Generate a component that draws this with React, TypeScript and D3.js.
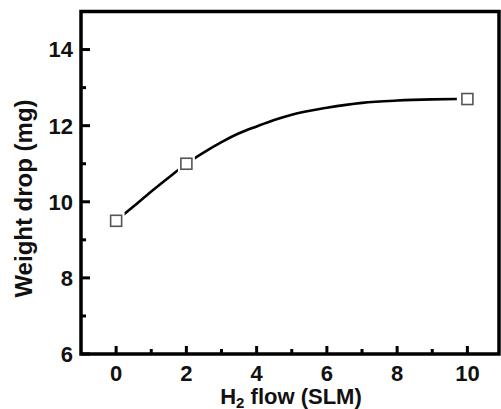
import React from "react";
import * as d3 from "d3";

const flowPoints = [0, 2, 10];
const weightPoints = [9.5, 11.0, 12.7];

const curveX = [0, 0.5, 1, 1.5, 2, 2.5, 3, 3.5, 4, 4.5, 5, 6, 7, 8, 9, 9.7];
const curveY = [9.5, 9.88, 10.27, 10.64, 11.0, 11.3, 11.57, 11.8, 11.98, 12.15, 12.29, 12.47, 12.6, 12.66, 12.69, 12.7];

const xMajor = [0, 2, 4, 6, 8, 10];
const xMinor = [1, 3, 5, 7, 9];
const yMajor = [6, 8, 10, 12, 14];
const yMinor = [7, 9, 11, 13];

const W = 501;
const H = 409;
const left = 81;
const right = 499;
const top = 11.5;
const bottom = 354;

export default function App() {
  const x = d3.scaleLinear().domain([-1, 10.9]).range([left, right]);
  const y = d3.scaleLinear().domain([6, 15]).range([bottom, top]);
  const line = d3
    .line<number>()
    .x((_, i) => x(curveX[i]))
    .y((d) => y(d))
    .curve(d3.curveMonotoneX);
  const path = line(curveY) || "";
  const font = "Liberation Sans, Arial, Helvetica, sans-serif";
  const ms = 11;

  return (
    <svg
      width={W}
      height={H}
      style={{ position: "absolute", left: 0, top: 0, background: "#fff" }}
      fontFamily={font}
    >
      <rect x={0} y={0} width={W} height={H} fill="#fff" />
      {/* curve */}
      <path d={path} fill="none" stroke="#000" strokeWidth={2.6} />
      {/* markers with halo */}
      {flowPoints.map((f, i) => (
        <g key={i}>
          <rect
            x={x(f) - ms / 2 - 3}
            y={y(weightPoints[i]) - ms / 2 - 3}
            width={ms + 6}
            height={ms + 6}
            fill="#fff"
          />
          <rect
            x={x(f) - ms / 2}
            y={y(weightPoints[i]) - ms / 2}
            width={ms}
            height={ms}
            fill="#fff"
            stroke="#555"
            strokeWidth={1.6}
          />
        </g>
      ))}
      {/* ticks */}
      {xMajor.map((t) => (
        <line key={"xM" + t} x1={x(t)} x2={x(t)} y1={bottom} y2={bottom - 8} stroke="#000" strokeWidth={3} />
      ))}
      {xMinor.map((t) => (
        <line key={"xm" + t} x1={x(t)} x2={x(t)} y1={bottom} y2={bottom - 5} stroke="#000" strokeWidth={3} />
      ))}
      {yMajor.map((t) => (
        <line key={"yM" + t} x1={left} x2={left + 9} y1={y(t)} y2={y(t)} stroke="#000" strokeWidth={3} />
      ))}
      {yMinor.map((t) => (
        <line key={"ym" + t} x1={left} x2={left + 5} y1={y(t)} y2={y(t)} stroke="#000" strokeWidth={3} />
      ))}
      {/* frame */}
      <rect
        x={left}
        y={top}
        width={right - left}
        height={bottom - top}
        fill="none"
        stroke="#000"
        strokeWidth={3.5}
      />
      {/* tick labels */}
      {xMajor.map((t) => (
        <text key={"xl" + t} x={x(t)} y={381} textAnchor="middle" fontSize={22} fontWeight="bold" fill="#111">
          {t}
        </text>
      ))}
      {yMajor.map((t) => (
        <text
          key={"yl" + t}
          x={73}
          y={y(t)}
          dy="0.36em"
          textAnchor="end"
          fontSize={22}
          fontWeight="bold"
          fill="#111"
        >
          {t}
        </text>
      ))}
      {/* axis titles */}
      <text x={291} y={404} textAnchor="middle" fontSize={22} fontWeight="bold" fill="#111">
        H<tspan fontSize={15} dy={4}>2</tspan>
        <tspan dy={-4}> flow (SLM)</tspan>
      </text>
      <text
        transform={`translate(32,${(100 + 297) / 2}) rotate(-90)`}
        textAnchor="middle"
        fontSize={24}
        fontWeight="bold"
        fill="#111"
      >
        Weight drop (mg)
      </text>
    </svg>
  );
}
